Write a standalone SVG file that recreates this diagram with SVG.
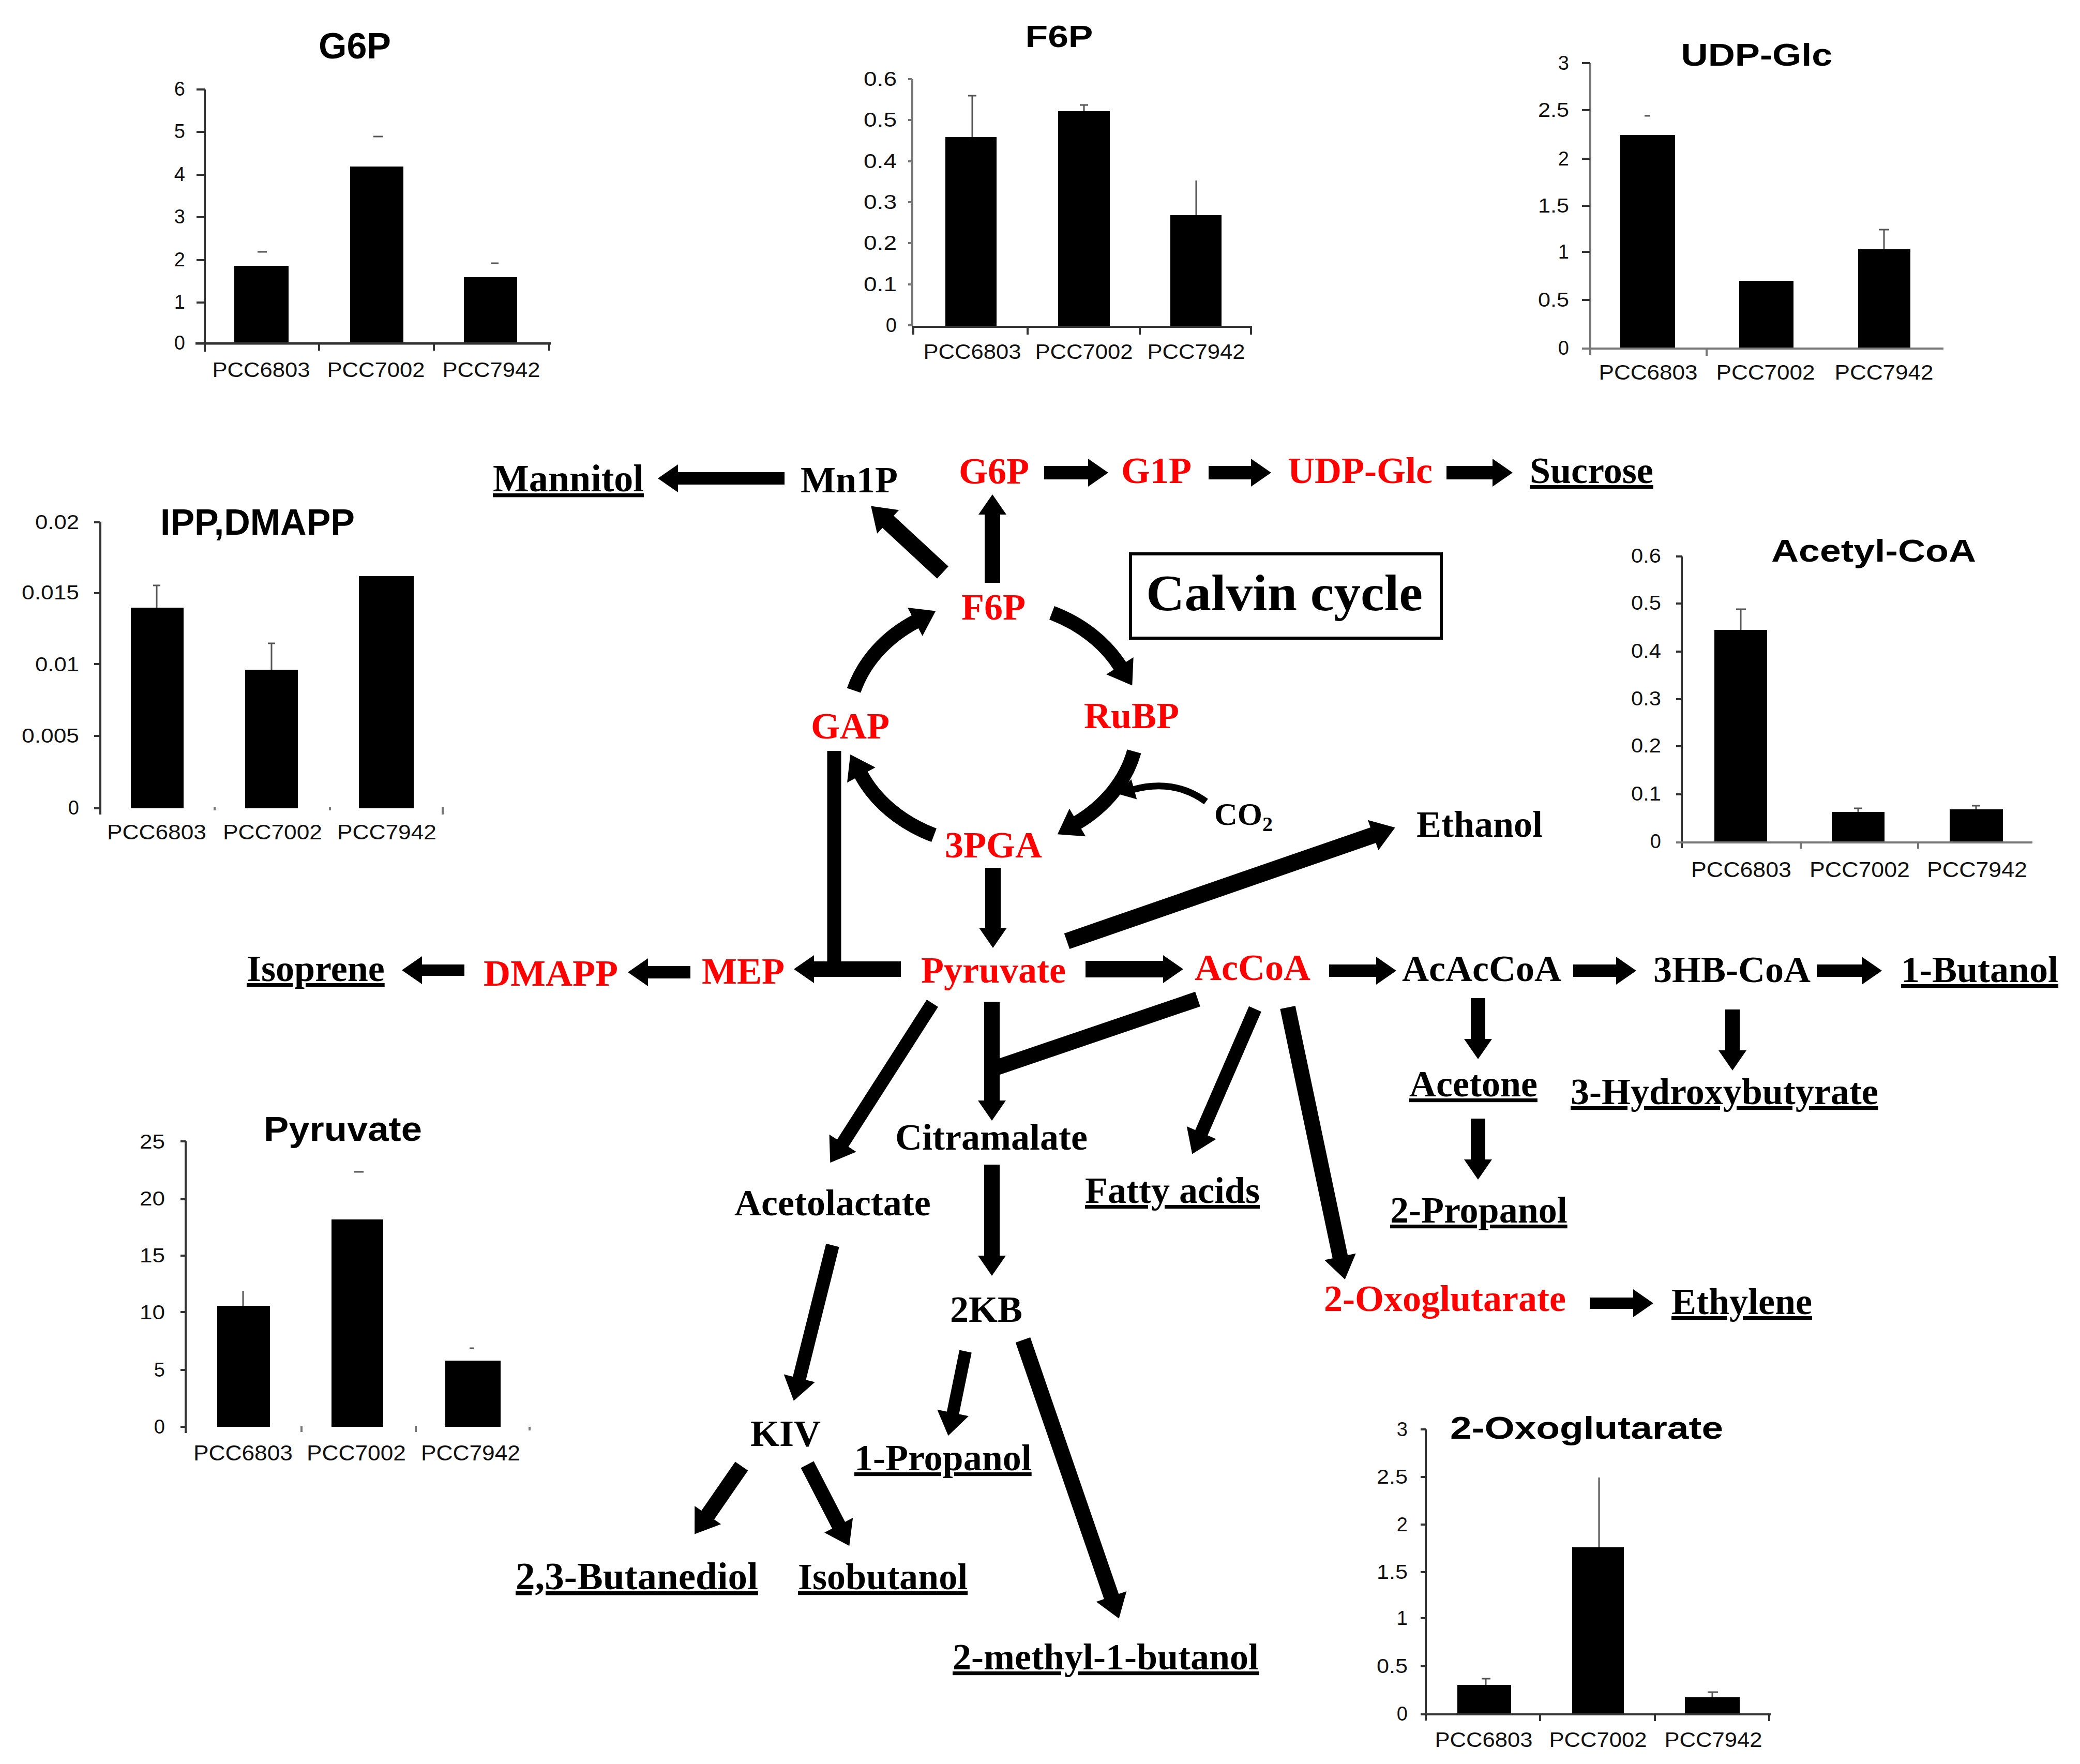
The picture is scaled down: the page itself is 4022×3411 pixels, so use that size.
<svg xmlns="http://www.w3.org/2000/svg" width="4022" height="3411" viewBox="0 0 4022 3411">
<style>
.n{font-family:"Liberation Serif","Times New Roman",serif;font-weight:bold;font-size:72px;fill:#000}
.r{fill:#ff0000}
.u{text-decoration:underline}
.ct{font-family:"Liberation Sans",Arial,sans-serif;font-weight:bold;fill:#000;text-anchor:middle}
.tl{font-family:"Liberation Sans",Arial,sans-serif;font-size:38px;fill:#111;text-anchor:end}
.xl{font-family:"Liberation Sans",Arial,sans-serif;font-size:40px;fill:#111;text-anchor:middle}
.ax{stroke:#333;stroke-width:4;fill:none}
.axg{stroke:#777;stroke-width:4;fill:none}
.bar{fill:#000}
.err{stroke:#555;stroke-width:3;fill:none}
.c{fill:none;stroke:#000;stroke-linecap:butt}
</style>
<defs>
<marker id="mA" markerUnits="userSpaceOnUse" orient="auto" refX="0" refY="0" markerWidth="10" markerHeight="10" style="overflow:visible"><path d="M-3,-27 L36,0 L-3,27 Z" fill="#000"/></marker>
<marker id="mB" markerUnits="userSpaceOnUse" orient="auto" refX="0" refY="0" markerWidth="10" markerHeight="10" style="overflow:visible"><path d="M-3,-31 L42,0 L-3,31 Z" fill="#000"/></marker>
<marker id="mC" markerUnits="userSpaceOnUse" orient="auto" refX="0" refY="0" markerWidth="10" markerHeight="10" style="overflow:visible"><path d="M-3,-20 L30,0 L-3,20 Z" fill="#000"/></marker>
</defs>
<rect width="4022" height="3411" fill="#fff"/>

<!-- ===== Charts ===== -->
<g id="chart-g6p">
<text class="ct" x="686" y="113" style="font-size:70px">G6P</text>
<line class="ax" x1="396" y1="173" x2="396" y2="680"/>
<g class="ax"><line x1="380" y1="173" x2="396" y2="173"/><line x1="380" y1="255" x2="396" y2="255"/><line x1="380" y1="338" x2="396" y2="338"/><line x1="380" y1="420" x2="396" y2="420"/><line x1="380" y1="503" x2="396" y2="503"/><line x1="380" y1="585" x2="396" y2="585"/></g>
<g class="tl"><text x="358" y="185">6</text><text x="358" y="267">5</text><text x="358" y="350">4</text><text x="358" y="432">3</text><text x="358" y="515">2</text><text x="358" y="597">1</text><text x="358" y="676">0</text></g>
<rect class="bar" x="453" y="514" width="105" height="150"/>
<rect class="bar" x="677" y="322" width="103" height="342"/>
<rect class="bar" x="897" y="536" width="103" height="128"/>
<g class="err"><line x1="498" y1="487" x2="516" y2="487"/><line x1="722" y1="264" x2="740" y2="264"/><line x1="950" y1="509" x2="964" y2="509"/></g>
<line x1="378" y1="664" x2="1065" y2="664" stroke="#333" stroke-width="5"/>
<g class="ax"><line x1="617" y1="664" x2="617" y2="678"/><line x1="839" y1="664" x2="839" y2="678"/><line x1="1062" y1="664" x2="1062" y2="678"/></g>
<g class="xl"><text x="505" y="729" textLength="189" lengthAdjust="spacingAndGlyphs">PCC6803</text><text x="727" y="729" textLength="189" lengthAdjust="spacingAndGlyphs">PCC7002</text><text x="950" y="729" textLength="189" lengthAdjust="spacingAndGlyphs">PCC7942</text></g>
</g>

<g id="chart-f6p">
<text class="ct" x="2048" y="91" style="font-size:60px" textLength="131" lengthAdjust="spacingAndGlyphs">F6P</text>
<line class="axg" x1="1764" y1="153" x2="1764" y2="631"/>
<g class="axg"><line x1="1756" y1="153" x2="1764" y2="153"/><line x1="1756" y1="232" x2="1764" y2="232"/><line x1="1756" y1="312" x2="1764" y2="312"/><line x1="1756" y1="391" x2="1764" y2="391"/><line x1="1756" y1="470" x2="1764" y2="470"/><line x1="1756" y1="550" x2="1764" y2="550"/><line x1="1756" y1="629" x2="1764" y2="629"/></g>
<g class="tl"><text x="1734" y="166" textLength="64" lengthAdjust="spacingAndGlyphs">0.6</text><text x="1734" y="245" textLength="64" lengthAdjust="spacingAndGlyphs">0.5</text><text x="1734" y="325" textLength="64" lengthAdjust="spacingAndGlyphs">0.4</text><text x="1734" y="404" textLength="64" lengthAdjust="spacingAndGlyphs">0.3</text><text x="1734" y="483" textLength="64" lengthAdjust="spacingAndGlyphs">0.2</text><text x="1734" y="563" textLength="64" lengthAdjust="spacingAndGlyphs">0.1</text><text x="1734" y="642">0</text></g>
<rect class="bar" x="1828" y="265" width="99" height="366"/>
<rect class="bar" x="2046" y="215" width="100" height="416"/>
<rect class="bar" x="2263" y="416" width="99" height="215"/>
<g class="err"><line x1="1880" y1="265" x2="1880" y2="185"/><line x1="1872" y1="185" x2="1888" y2="185"/><line x1="2096" y1="215" x2="2096" y2="203"/><line x1="2088" y1="203" x2="2104" y2="203"/><line x1="2313" y1="416" x2="2313" y2="349"/></g>
<line class="ax" x1="1764" y1="632" x2="2421" y2="632"/>
<g class="ax"><line x1="1766" y1="632" x2="1766" y2="647"/><line x1="1987" y1="632" x2="1987" y2="647"/><line x1="2204" y1="632" x2="2204" y2="647"/><line x1="2419" y1="632" x2="2419" y2="647"/></g>
<g class="xl"><text x="1880" y="694" textLength="189" lengthAdjust="spacingAndGlyphs">PCC6803</text><text x="2096" y="694" textLength="189" lengthAdjust="spacingAndGlyphs">PCC7002</text><text x="2313" y="694" textLength="189" lengthAdjust="spacingAndGlyphs">PCC7942</text></g>
</g>

<g id="chart-udpglc">
<text class="ct" x="3397" y="127" style="font-size:62px" textLength="293" lengthAdjust="spacingAndGlyphs">UDP-Glc</text>
<line class="axg" x1="3075" y1="122" x2="3075" y2="686"/>
<g class="ax"><line x1="3059" y1="122" x2="3075" y2="122"/><line x1="3059" y1="213" x2="3075" y2="213"/><line x1="3059" y1="307" x2="3075" y2="307"/><line x1="3059" y1="398" x2="3075" y2="398"/><line x1="3059" y1="487" x2="3075" y2="487"/><line x1="3059" y1="580" x2="3075" y2="580"/></g>
<g class="tl"><text x="3034" y="135">3</text><text x="3034" y="226" textLength="60" lengthAdjust="spacingAndGlyphs">2.5</text><text x="3034" y="320">2</text><text x="3034" y="411" textLength="60" lengthAdjust="spacingAndGlyphs">1.5</text><text x="3034" y="500">1</text><text x="3034" y="593" textLength="60" lengthAdjust="spacingAndGlyphs">0.5</text><text x="3034" y="686">0</text></g>
<rect class="bar" x="3133" y="261" width="106" height="412"/>
<rect class="bar" x="3363" y="543" width="105" height="130"/>
<rect class="bar" x="3593" y="482" width="101" height="191"/>
<g class="err"><line x1="3180" y1="224" x2="3190" y2="224"/><line x1="3643" y1="482" x2="3643" y2="444"/><line x1="3633" y1="444" x2="3653" y2="444"/></g>
<line class="axg" x1="3059" y1="674" x2="3758" y2="674"/>
<line class="axg" x1="3300" y1="674" x2="3300" y2="688"/>
<g class="xl"><text x="3187" y="734" textLength="191" lengthAdjust="spacingAndGlyphs">PCC6803</text><text x="3414" y="734" textLength="191" lengthAdjust="spacingAndGlyphs">PCC7002</text><text x="3643" y="734" textLength="191" lengthAdjust="spacingAndGlyphs">PCC7942</text></g>
</g>

<g id="chart-ipp">
<text class="ct" x="498" y="1034" style="font-size:70px">IPP,DMAPP</text>
<line class="ax" x1="194" y1="1010" x2="194" y2="1575"/>
<g class="ax"><line x1="182" y1="1010" x2="194" y2="1010"/><line x1="182" y1="1147" x2="194" y2="1147"/><line x1="182" y1="1284" x2="194" y2="1284"/><line x1="182" y1="1423" x2="194" y2="1423"/><line x1="182" y1="1563" x2="194" y2="1563"/></g>
<g class="tl"><text x="153" y="1023" textLength="85" lengthAdjust="spacingAndGlyphs">0.02</text><text x="153" y="1159" textLength="111" lengthAdjust="spacingAndGlyphs">0.015</text><text x="153" y="1298" textLength="85" lengthAdjust="spacingAndGlyphs">0.01</text><text x="153" y="1436" textLength="111" lengthAdjust="spacingAndGlyphs">0.005</text><text x="153" y="1575">0</text></g>
<rect class="bar" x="253" y="1175" width="102" height="388"/>
<rect class="bar" x="474" y="1295" width="102" height="268"/>
<rect class="bar" x="694" y="1114" width="106" height="449"/>
<g class="err"><line x1="303" y1="1175" x2="303" y2="1132"/><line x1="296" y1="1132" x2="310" y2="1132"/><line x1="525" y1="1295" x2="525" y2="1244"/><line x1="518" y1="1244" x2="532" y2="1244"/></g>
<g class="axg"><line x1="415" y1="1561" x2="415" y2="1567"/><line x1="638" y1="1561" x2="638" y2="1567"/><line x1="856" y1="1560" x2="856" y2="1575"/></g>
<g class="xl"><text x="303" y="1623" textLength="192" lengthAdjust="spacingAndGlyphs">PCC6803</text><text x="527" y="1623" textLength="192" lengthAdjust="spacingAndGlyphs">PCC7002</text><text x="748" y="1623" textLength="192" lengthAdjust="spacingAndGlyphs">PCC7942</text></g>
</g>

<g id="chart-acetylcoa">
<text class="ct" x="3623" y="1086" style="font-size:62px" textLength="396" lengthAdjust="spacingAndGlyphs">Acetyl-CoA</text>
<line class="ax" x1="3252" y1="1076" x2="3252" y2="1640"/>
<g class="ax"><line x1="3241" y1="1076" x2="3252" y2="1076"/><line x1="3241" y1="1167" x2="3252" y2="1167"/><line x1="3241" y1="1260" x2="3252" y2="1260"/><line x1="3241" y1="1352" x2="3252" y2="1352"/><line x1="3241" y1="1443" x2="3252" y2="1443"/><line x1="3241" y1="1536" x2="3252" y2="1536"/></g>
<g class="tl"><text x="3212" y="1088" textLength="58" lengthAdjust="spacingAndGlyphs">0.6</text><text x="3212" y="1179" textLength="58" lengthAdjust="spacingAndGlyphs">0.5</text><text x="3212" y="1272" textLength="58" lengthAdjust="spacingAndGlyphs">0.4</text><text x="3212" y="1364" textLength="58" lengthAdjust="spacingAndGlyphs">0.3</text><text x="3212" y="1455" textLength="58" lengthAdjust="spacingAndGlyphs">0.2</text><text x="3212" y="1548" textLength="58" lengthAdjust="spacingAndGlyphs">0.1</text><text x="3212" y="1640">0</text></g>
<rect class="bar" x="3315" y="1218" width="102" height="410"/>
<rect class="bar" x="3542" y="1570" width="102" height="58"/>
<rect class="bar" x="3770" y="1565" width="103" height="63"/>
<g class="err"><line x1="3366" y1="1218" x2="3366" y2="1178"/><line x1="3357" y1="1178" x2="3376" y2="1178"/><line x1="3593" y1="1570" x2="3593" y2="1563"/><line x1="3585" y1="1563" x2="3601" y2="1563"/><line x1="3821" y1="1565" x2="3821" y2="1558"/><line x1="3813" y1="1558" x2="3829" y2="1558"/></g>
<line class="axg" x1="3241" y1="1629" x2="3930" y2="1629"/>
<g class="axg"><line x1="3482" y1="1629" x2="3482" y2="1641"/><line x1="3709" y1="1629" x2="3709" y2="1641"/></g>
<g class="xl"><text x="3367" y="1696" style="font-size:42px" textLength="194" lengthAdjust="spacingAndGlyphs">PCC6803</text><text x="3596" y="1696" style="font-size:42px" textLength="194" lengthAdjust="spacingAndGlyphs">PCC7002</text><text x="3823" y="1696" style="font-size:42px" textLength="194" lengthAdjust="spacingAndGlyphs">PCC7942</text></g>
</g>

<g id="chart-pyruvate">
<text class="ct" x="663" y="2206" style="font-size:66px" textLength="306" lengthAdjust="spacingAndGlyphs">Pyruvate</text>
<line class="ax" x1="359" y1="2207" x2="359" y2="2771"/>
<g class="ax"><line x1="349" y1="2207" x2="359" y2="2207"/><line x1="349" y1="2319" x2="359" y2="2319"/><line x1="349" y1="2428" x2="359" y2="2428"/><line x1="349" y1="2537" x2="359" y2="2537"/><line x1="349" y1="2649" x2="359" y2="2649"/><line x1="349" y1="2759" x2="359" y2="2759"/></g>
<g class="tl"><text x="319" y="2221" textLength="49" lengthAdjust="spacingAndGlyphs">25</text><text x="319" y="2331" textLength="49" lengthAdjust="spacingAndGlyphs">20</text><text x="319" y="2441" textLength="49" lengthAdjust="spacingAndGlyphs">15</text><text x="319" y="2551" textLength="49" lengthAdjust="spacingAndGlyphs">10</text><text x="319" y="2662">5</text><text x="319" y="2772">0</text></g>
<rect class="bar" x="420" y="2525" width="102" height="234"/>
<rect class="bar" x="641" y="2358" width="100" height="401"/>
<rect class="bar" x="861" y="2631" width="107" height="128"/>
<g class="err"><line x1="470" y1="2525" x2="470" y2="2496"/><line x1="685" y1="2266" x2="703" y2="2266"/><line x1="908" y1="2607" x2="916" y2="2607"/></g>
<g class="axg"><line x1="583" y1="2757" x2="583" y2="2769"/><line x1="804" y1="2757" x2="804" y2="2769"/><line x1="1024" y1="2759" x2="1024" y2="2766"/></g>
<g class="xl"><text x="470" y="2824" style="font-size:42px" textLength="192" lengthAdjust="spacingAndGlyphs">PCC6803</text><text x="689" y="2824" style="font-size:42px" textLength="192" lengthAdjust="spacingAndGlyphs">PCC7002</text><text x="910" y="2824" style="font-size:42px" textLength="192" lengthAdjust="spacingAndGlyphs">PCC7942</text></g>
</g>

<g id="chart-2og">
<text class="ct" x="3068" y="2782" style="font-size:62px" textLength="528" lengthAdjust="spacingAndGlyphs">2-Oxoglutarate</text>
<line class="ax" x1="2757" y1="2764" x2="2757" y2="3327"/>
<g class="ax"><line x1="2747" y1="2764" x2="2757" y2="2764"/><line x1="2747" y1="2856" x2="2757" y2="2856"/><line x1="2747" y1="2948" x2="2757" y2="2948"/><line x1="2747" y1="3040" x2="2757" y2="3040"/><line x1="2747" y1="3129" x2="2757" y2="3129"/><line x1="2747" y1="3222" x2="2757" y2="3222"/></g>
<g class="tl"><text x="2722" y="2777">3</text><text x="2722" y="2869" textLength="60" lengthAdjust="spacingAndGlyphs">2.5</text><text x="2722" y="2961">2</text><text x="2722" y="3053" textLength="60" lengthAdjust="spacingAndGlyphs">1.5</text><text x="2722" y="3142">1</text><text x="2722" y="3235" textLength="60" lengthAdjust="spacingAndGlyphs">0.5</text><text x="2722" y="3327">0</text></g>
<rect class="bar" x="2818" y="3258" width="104" height="56"/>
<rect class="bar" x="3040" y="2992" width="100" height="322"/>
<rect class="bar" x="3258" y="3282" width="106" height="32"/>
<g class="err"><line x1="2873" y1="3258" x2="2873" y2="3246"/><line x1="2865" y1="3246" x2="2882" y2="3246"/><line x1="3092" y1="2992" x2="3092" y2="2857"/><line x1="3311" y1="3282" x2="3311" y2="3272"/><line x1="3302" y1="3272" x2="3322" y2="3272"/></g>
<line class="ax" x1="2747" y1="3315" x2="3424" y2="3315"/>
<g class="ax"><line x1="2978" y1="3315" x2="2978" y2="3328"/><line x1="3200" y1="3315" x2="3200" y2="3328"/><line x1="3421" y1="3315" x2="3421" y2="3328"/></g>
<g class="xl"><text x="2869" y="3378" textLength="189" lengthAdjust="spacingAndGlyphs">PCC6803</text><text x="3090" y="3378" textLength="189" lengthAdjust="spacingAndGlyphs">PCC7002</text><text x="3313" y="3378" textLength="189" lengthAdjust="spacingAndGlyphs">PCC7942</text></g>
</g>

<!-- ===== Connectors ===== -->
<g id="connectors" class="c">
<line x1="1517" y1="925" x2="1308" y2="925" stroke-width="24" marker-end="url(#mA)"/>
<line x1="2019" y1="914" x2="2107" y2="914" stroke-width="26" marker-end="url(#mA)"/>
<line x1="2337" y1="914" x2="2422" y2="914" stroke-width="26" marker-end="url(#mA)"/>
<line x1="2797" y1="914" x2="2889" y2="914" stroke-width="26" marker-end="url(#mA)"/>
<line x1="1919" y1="1127" x2="1919" y2="992" stroke-width="30" marker-end="url(#mA)"/>
<line x1="1823" y1="1107" x2="1715" y2="1007" stroke-width="32" marker-end="url(#mB)"/>
<path d="M1651,1335 A280,235 0 0 1 1772,1201" stroke-width="28" marker-end="url(#mB)"/>
<path d="M2034,1185 A280,235 0 0 1 2167,1290" stroke-width="28" marker-end="url(#mB)"/>
<path d="M2193,1453 A280,235 0 0 1 2081,1592" stroke-width="28" marker-end="url(#mB)"/>
<path d="M1806,1615 A280,235 0 0 1 1664,1496" stroke-width="28" marker-end="url(#mB)"/>
<path d="M2332,1550 Q2270,1505 2190,1527" stroke-width="13" marker-end="url(#mC)"/>
<line x1="1613" y1="1452" x2="1613" y2="1888" stroke-width="27"/>
<line x1="1742" y1="1874" x2="1571" y2="1874" stroke-width="30" marker-end="url(#mA)"/>
<line x1="1335" y1="1880" x2="1250" y2="1880" stroke-width="24" marker-end="url(#mA)"/>
<line x1="898" y1="1876" x2="813" y2="1876" stroke-width="22" marker-end="url(#mA)"/>
<line x1="1920" y1="1678" x2="1920" y2="1797" stroke-width="30" marker-end="url(#mA)"/>
<line x1="2063" y1="1820" x2="2658" y2="1614" stroke-width="32" marker-end="url(#mB)"/>
<line x1="2099" y1="1874" x2="2252" y2="1874" stroke-width="32" marker-end="url(#mA)"/>
<line x1="2570" y1="1877" x2="2664" y2="1877" stroke-width="24" marker-end="url(#mA)"/>
<line x1="3042" y1="1877" x2="3128" y2="1877" stroke-width="24" marker-end="url(#mA)"/>
<line x1="3513" y1="1877" x2="3603" y2="1877" stroke-width="24" marker-end="url(#mA)"/>
<line x1="1918" y1="1937" x2="1918" y2="2131" stroke-width="30" marker-end="url(#mA)"/>
<line x1="2316" y1="1932" x2="1928" y2="2064" stroke-width="30"/>
<line x1="1918" y1="2252" x2="1918" y2="2431" stroke-width="30" marker-end="url(#mA)"/>
<line x1="1803" y1="1940" x2="1628" y2="2213" stroke-width="26" marker-end="url(#mB)"/>
<line x1="1610" y1="2408" x2="1545" y2="2668" stroke-width="26" marker-end="url(#mB)"/>
<line x1="1867" y1="2613" x2="1842" y2="2735" stroke-width="24" marker-end="url(#mB)"/>
<line x1="1978" y1="2591" x2="2150" y2="3090" stroke-width="30" marker-end="url(#mB)"/>
<line x1="1434" y1="2835" x2="1367" y2="2932" stroke-width="30" marker-end="url(#mB)"/>
<line x1="1561" y1="2832" x2="1623" y2="2952" stroke-width="28" marker-end="url(#mB)"/>
<line x1="2427" y1="1951" x2="2322" y2="2193" stroke-width="26" marker-end="url(#mB)"/>
<line x1="2490" y1="1948" x2="2592" y2="2433" stroke-width="30" marker-end="url(#mB)"/>
<line x1="2858" y1="1930" x2="2858" y2="2012" stroke-width="28" marker-end="url(#mA)"/>
<line x1="2858" y1="2163" x2="2858" y2="2245" stroke-width="28" marker-end="url(#mA)"/>
<line x1="3350" y1="1952" x2="3350" y2="2034" stroke-width="28" marker-end="url(#mA)"/>
<line x1="3074" y1="2520" x2="3161" y2="2520" stroke-width="22" marker-end="url(#mA)"/>
</g>

<!-- ===== Nodes ===== -->
<g id="n-mannitol"><text class="n u" x="953" y="950" style="font-size:74px">Mannitol</text></g>
<g id="n-mn1p"><text class="n" x="1548" y="952">Mn1P</text></g>
<g id="n-g6p"><text class="n r" x="1854" y="935">G6P</text></g>
<g id="n-g1p"><text class="n r" x="2168" y="934">G1P</text></g>
<g id="n-udpglc"><text class="n r" x="2490" y="934">UDP-Glc</text></g>
<g id="n-sucrose"><text class="n u" x="2958" y="934">Sucrose</text></g>
<g id="n-calvin"><rect x="2186" y="1071" width="601" height="163" fill="none" stroke="#000" stroke-width="6"/><text class="n" x="2216" y="1180" style="font-size:100px" textLength="535" lengthAdjust="spacingAndGlyphs">Calvin cycle</text></g>
<g id="n-f6p"><text class="n r" x="1859" y="1198">F6P</text></g>
<g id="n-gap"><text class="n r" x="1568" y="1428">GAP</text></g>
<g id="n-rubp"><text class="n r" x="2096" y="1408">RuBP</text></g>
<g id="n-3pga"><text class="n r" x="1827" y="1658">3PGA</text></g>
<g id="n-co2"><text class="n" x="2348" y="1595" style="font-size:62px">CO<tspan style="font-size:40px" dy="12">2</tspan></text></g>
<g id="n-ethanol"><text class="n" x="2739" y="1618">Ethanol</text></g>
<g id="n-isoprene"><text class="n u" x="477" y="1897">Isoprene</text></g>
<g id="n-dmapp"><text class="n r" x="935" y="1906">DMAPP</text></g>
<g id="n-mep"><text class="n r" x="1357" y="1902">MEP</text></g>
<g id="n-pyruvate"><text class="n r" x="1781" y="1900">Pyruvate</text></g>
<g id="n-accoa"><text class="n r" x="2310" y="1895">AcCoA</text></g>
<g id="n-acaccoa"><text class="n" x="2711" y="1897">AcAcCoA</text></g>
<g id="n-3hbcoa"><text class="n" x="3197" y="1899">3HB-CoA</text></g>
<g id="n-1butanol"><text class="n u" x="3676" y="1899">1-Butanol</text></g>
<g id="n-acetone"><text class="n u" x="2725" y="2120">Acetone</text></g>
<g id="n-3hb"><text class="n u" x="3037" y="2135">3-Hydroxybutyrate</text></g>
<g id="n-2propanol"><text class="n u" x="2688" y="2364">2-Propanol</text></g>
<g id="n-citramalate"><text class="n" x="1731" y="2223">Citramalate</text></g>
<g id="n-acetolactate"><text class="n" x="1420" y="2350">Acetolactate</text></g>
<g id="n-fattyacids"><text class="n u" x="2098" y="2326">Fatty acids</text></g>
<g id="n-2og"><text class="n r" x="2560" y="2535">2-Oxoglutarate</text></g>
<g id="n-ethylene"><text class="n u" x="3232" y="2541">Ethylene</text></g>
<g id="n-2kb"><text class="n" x="1837" y="2556">2KB</text></g>
<g id="n-kiv"><text class="n" x="1451" y="2796">KIV</text></g>
<g id="n-1propanol"><text class="n u" x="1652" y="2843">1-Propanol</text></g>
<g id="n-23bd"><text class="n u" x="997" y="3073" style="font-size:75px">2,3-Butanediol</text></g>
<g id="n-isobutanol"><text class="n u" x="1543" y="3073">Isobutanol</text></g>
<g id="n-2m1b"><text class="n u" x="1842" y="3228">2-methyl-1-butanol</text></g>
</svg>
